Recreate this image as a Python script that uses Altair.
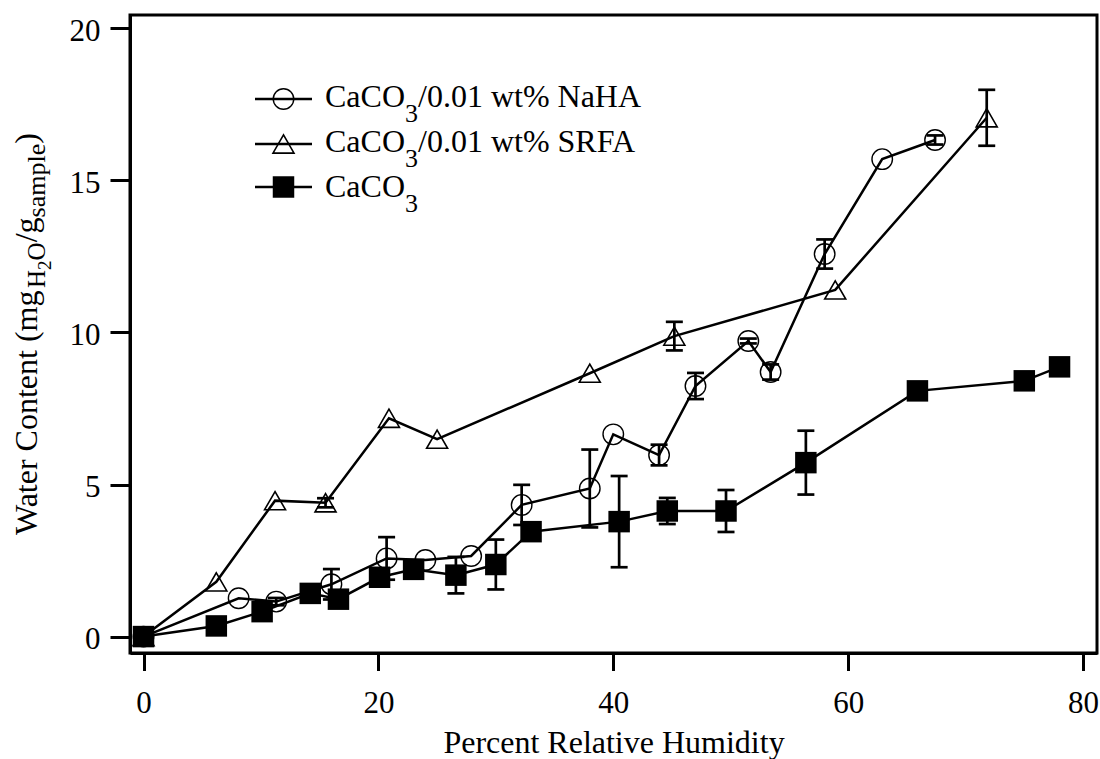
import altair as alt
import pandas as pd

# ---------------- data ----------------
naha_rh  = [0, 8.1, 11.3, 16.0, 20.7, 24.0, 27.9, 32.2, 38.0, 40.0, 43.9, 47.0, 51.5, 53.4, 58.0, 62.9, 67.4]
naha_wc  = [0, 1.26, 1.15, 1.72, 2.57, 2.52, 2.65, 4.33, 4.87, 6.65, 5.97, 8.24, 9.72, 8.70, 12.58, 15.70, 16.33]
naha_err = [0, 0, 0.12, 0.5, 0.7, 0, 0, 0.66, 1.28, 0, 0.34, 0.43, 0.08, 0.25, 0.48, 0, 0.15]

srfa_rh  = [0, 6.2, 11.2, 15.5, 20.9, 25.0, 38.0, 45.2, 58.9, 71.8]
srfa_wc  = [0, 1.80, 4.47, 4.40, 7.18, 6.49, 8.66, 9.88, 11.40, 17.06]
srfa_err = [0, 0, 0, 0.15, 0, 0, 0, 0.47, 0, 0.92]

caco3_rh  = [0, 6.2, 10.1, 14.2, 16.6, 20.1, 23.0, 26.6, 30.0, 33.0, 40.5, 44.6, 49.6, 56.4, 65.9, 75.0, 78.0]
caco3_wc  = [0, 0.35, 0.82, 1.42, 1.23, 1.95, 2.21, 2.02, 2.37, 3.45, 3.78, 4.13, 4.13, 5.72, 8.08, 8.41, 8.87]
caco3_err = [0, 0, 0, 0, 0, 0.12, 0, 0.6, 0.82, 0, 1.5, 0.43, 0.69, 1.05, 0, 0, 0]

x_ticks = [0, 20, 40, 60, 80]
y_ticks = [0, 5, 10, 15, 20]

legend_rows = [
    ("circle", ["CaCO", "3", "/0.01 wt% NaHA"]),
    ("triangle-up", ["CaCO", "3", "/0.01 wt% SRFA"]),
    ("square", ["CaCO", "3", ""]),
]
x_title = "Percent Relative Humidity"
# (text, size, baseline shift) segments of the y title
y_title_segments = [("Water Content (mg", 32, 0), ("H", 25, 8), ("2", 19, 14), ("O", 25, 8),
                    ("/g", 32, 0), ("sample", 26, 8), (")", 32, 0)]

# ---------------- layout ----------------
FONT = "Liberation Serif"
W, H = 967, 638
X_DOM = [-1.15, 81.19]
Y_DOM = [-0.54, 20.44]

TIMES = {"C": 667, "a": 444, "O": 722, "3": 500, "/": 278, "0": 500, ".": 250, "1": 500, " ": 250,
         "w": 722, "t": 278, "%": 833, "N": 722, "H": 722, "A": 722, "S": 556, "R": 667, "F": 556,
         "W": 944, "e": 444, "r": 333, "o": 500, "n": 500, "(": 333, "m": 778, "g": 500, "2": 500,
         "s": 389, "p": 500, "l": 278, ")": 333}


def tw(s, size):
    return sum(TIMES.get(c, 500) for c in s) * size / 1000.0


def frame(name, xs, ys, es):
    return pd.DataFrame({
        "series": name, "rh": xs, "wc": ys, "err": es,
        "lo": [y - e for y, e in zip(ys, es)],
        "hi": [y + e for y, e in zip(ys, es)],
    })


naha = frame("naha", naha_rh, naha_wc, naha_err)
srfa = frame("srfa", srfa_rh, srfa_wc, srfa_err)
caco3 = frame("caco3", caco3_rh, caco3_wc, caco3_err)
alldf = pd.concat([naha, srfa, caco3], ignore_index=True)
errdf = alldf[alldf["err"] > 0].reset_index(drop=True)

xscale = alt.Scale(domain=X_DOM, nice=False, zero=False)
yscale = alt.Scale(domain=Y_DOM, nice=False, zero=False)
xaxis = alt.Axis(values=x_ticks, format="d", title=x_title, titleFont=FONT, titleFontSize=32,
                 titleFontWeight="normal", titleColor="black", titleBaseline="alphabetic", titleY=99,
                 labelFont=FONT, labelFontSize=31, labelColor="black", labelPadding=18,
                 labelFlush=False, labelOverlap=False,
                 tickSize=17.5, tickWidth=3, tickColor="black",
                 domainColor="black", domainWidth=3, grid=False)
yaxis = alt.Axis(values=y_ticks, format="d", title=None,
                 labelFont=FONT, labelFontSize=31, labelColor="black", labelPadding=10,
                 labelOffset=3, labelFlush=False, labelOverlap=False,
                 tickSize=20, tickWidth=3, tickColor="black",
                 domainColor="black", domainWidth=3, grid=False)

X = alt.X("rh:Q", scale=xscale, axis=xaxis)
Yv = alt.Y("wc:Q", scale=yscale, axis=yaxis)

err_rule = alt.Chart(errdf).mark_rule(color="black", strokeWidth=2.7).encode(
    x=X, y=alt.Y("lo:Q", scale=yscale, axis=yaxis), y2="hi:Q")
cap_lo = alt.Chart(errdf).mark_point(shape="M-1,0L1,0", size=289, strokeWidth=2.7, color="black",
                                     filled=False, opacity=1).encode(
    x=X, y=alt.Y("lo:Q", scale=yscale, axis=yaxis))
cap_hi = alt.Chart(errdf).mark_point(shape="M-1,0L1,0", size=289, strokeWidth=2.7, color="black",
                                     filled=False, opacity=1).encode(
    x=X, y=alt.Y("hi:Q", scale=yscale, axis=yaxis))

lines = alt.Chart(alldf).mark_line(color="black", strokeWidth=2.5).encode(
    x=X, y=Yv, detail="series:N")

pts_naha = alt.Chart(naha).mark_point(shape="circle", size=420, filled=False, strokeWidth=1.4,
                                      color="black", opacity=1).encode(x=X, y=Yv)
pts_srfa = alt.Chart(srfa).mark_point(shape="triangle-up", size=441, filled=False, strokeWidth=1.6,
                                      color="black", opacity=1).encode(x=X, y=Yv)
pts_caco3 = alt.Chart(caco3).mark_point(shape="square", size=462, filled=True,
                                        color="black", opacity=1).encode(x=X, y=Yv)

one = pd.DataFrame({"k": [0]})


def txt(s, x, y, size, angle=0):
    return alt.Chart(one).mark_text(text=s, font=FONT, fontSize=size, align="left",
                                    baseline="alphabetic", angle=angle, color="black").encode(
        x=alt.value(x), y=alt.value(y))


layers = [err_rule, cap_lo, cap_hi, lines, pts_naha, pts_srfa, pts_caco3]

# ---- legend (inside plot, top-left) ----
LEG_SYM_Y = [84.0, 129.0, 172.0]
LEG_BASE_Y = [92.0, 137.0, 181.5]
for (shape, segs), sy, by in zip(legend_rows, LEG_SYM_Y, LEG_BASE_Y):
    layers.append(alt.Chart(one).mark_rule(color="black", strokeWidth=2.5).encode(
        x=alt.value(125), x2=alt.value(182), y=alt.value(sy)))
    if shape == "circle":
        m = alt.Chart(one).mark_point(shape="circle", size=420, filled=False, strokeWidth=1.4,
                                      color="black", opacity=1)
    elif shape == "triangle-up":
        m = alt.Chart(one).mark_point(shape="triangle-up", size=441, filled=False, strokeWidth=1.6,
                                      color="black", opacity=1)
    else:
        m = alt.Chart(one).mark_point(shape="square", size=462, filled=True, color="black", opacity=1)
    layers.append(m.encode(x=alt.value(153.5), y=alt.value(sy)))
    cx = 195.0
    main, sub, rest = segs
    layers.append(txt(main, cx, by, 32))
    cx += tw(main, 32)
    layers.append(txt(sub, cx, by + 15, 26))
    cx += tw(sub, 26)
    if rest:
        layers.append(txt(rest, cx, by, 32))

# ---- y-axis title with subscripts (rotated) ----
cy = 520.0
base_x = -93.5
for s, size, shift in y_title_segments:
    layers.append(txt(s, base_x + shift, cy, size, angle=270))
    cy -= tw(s, size)

chart = alt.layer(*layers).properties(
    width=W, height=H,
    autosize=alt.AutoSizeParams(type="none"),
    padding={"left": 130, "top": 15, "right": 1100 - 130 - W, "bottom": 759 - 15 - H},
    background="white",
).configure_view(stroke="black", strokeWidth=3)

chart.save("out.html", embed_options={"renderer": "svg", "actions": False})
